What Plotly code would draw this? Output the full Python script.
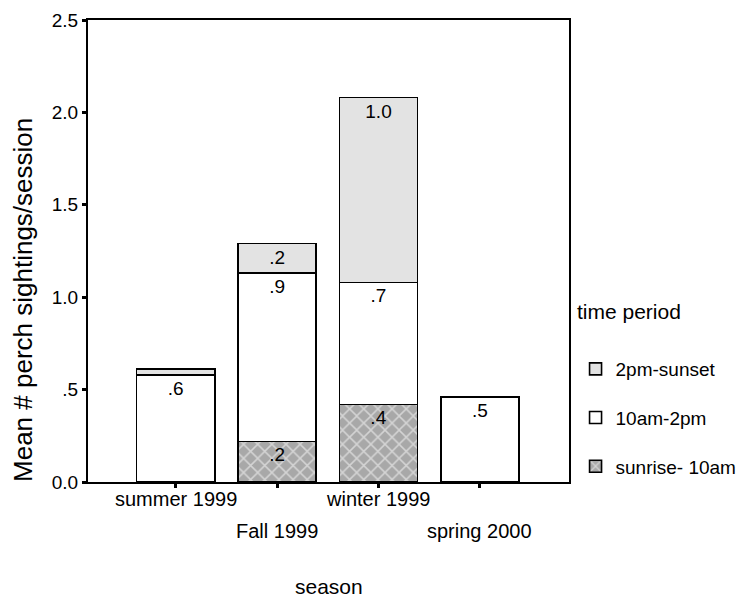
import plotly.graph_objects as go

seasons = ["summer 1999", "Fall 1999", "winter 1999", "spring 2000"]
sunrise_10am = [0.0, 0.22, 0.42, 0.0]
am10_2pm = [0.58, 0.91, 0.66, 0.46]
pm2_sunset = [0.03, 0.16, 1.0, 0.0]
y_ticks = [0, 0.5, 1.0, 1.5, 2.0, 2.5]
y_ticklabels = ["0.0", ".5", "1.0", "1.5", "2.0", "2.5"]
label_row = [0, 1, 0, 1]  # staggered x labels

FONT = "Liberation Sans, Arial, sans-serif"


def fmt(vals):
    out = []
    for v in vals:
        if v >= 0.1:
            s = f"{v:.1f}"
            out.append(s[1:] if s.startswith("0") else s)
        else:
            out.append("")
    return out


fig = go.Figure()
series = [
    ("sunrise- 10am", sunrise_10am, 3,
     dict(color="#a8a8a8", pattern=dict(shape="x", fgcolor="white", bgcolor="#a8a8a8", size=10, solidity=0.28))),
    ("10am-2pm", am10_2pm, 2, dict(color="white")),
    ("2pm-sunset", pm2_sunset, 1, dict(color="#e3e3e3")),
]
for name, vals, rank, mk in series:
    mk = dict(mk)
    mk["line"] = dict(color="black", width=1.6)
    fig.add_trace(go.Bar(
        x=seasons, y=vals, name=name, marker=mk, width=0.77,
        text=fmt(vals), textposition="inside", insidetextanchor="end",
        textangle=0, constraintext="none",
        textfont=dict(family=FONT, size=19, color="black"),
        legendgroup=name, legendrank=rank, cliponaxis=False,
    ))

for i, s in enumerate(seasons):
    fig.add_annotation(
        x=s, y=0, xref="x", yref="paper", yanchor="top",
        yshift=-4 - 32 * label_row[i], text=s, showarrow=False,
        font=dict(family=FONT, size=20, color="black"),
    )

# axis titles and legend title as free text
fig.add_annotation(
    x=0.5, y=0, xref="paper", yref="paper", yanchor="middle", yshift=-104,
    text="season", showarrow=False, font=dict(family=FONT, size=21, color="black"),
)
fig.add_annotation(
    x=0, y=0.394, xref="paper", yref="paper", xanchor="center", yanchor="middle",
    xshift=-65, textangle=-90, text="Mean # perch sightings/session", showarrow=False,
    font=dict(family=FONT, size=26, color="black"),
)
fig.add_annotation(
    x=1.0, y=0.368, xref="paper", yref="paper", xanchor="left", yanchor="middle",
    xshift=6, text="time period", showarrow=False,
    font=dict(family=FONT, size=21, color="black"),
)

fig.update_layout(
    width=739, height=592,
    margin=dict(l=80, r=178, t=12, b=118),
    plot_bgcolor="white", paper_bgcolor="white",
    barmode="stack", bargap=0.23,
    font=dict(family=FONT, size=20, color="black"),
    showlegend=True,
    legend=dict(
        xref="container", yref="container",
        x=0.768, xanchor="left", y=0.4223, yanchor="top",
        traceorder="grouped", tracegroupgap=21,
        font=dict(family=FONT, size=19), bgcolor="rgba(0,0,0,0)",
    ),
    xaxis=dict(
        range=[-0.865, 3.879], showline=True, linecolor="black", linewidth=2,
        mirror=True, ticks="outside", ticklen=4, tickwidth=3, tickcolor="black",
        showticklabels=False, showgrid=False, zeroline=False, automargin=False,
    ),
    yaxis=dict(
        range=[0, 2.5], tickvals=y_ticks, ticktext=y_ticklabels,
        showline=True, linecolor="black", linewidth=2, mirror=True,
        ticks="outside", ticklen=4, tickwidth=3, tickcolor="black",
        showgrid=False, zeroline=False, automargin=False,
        tickfont=dict(family=FONT, size=19),
    ),
)

fig.write_html("out.html")
